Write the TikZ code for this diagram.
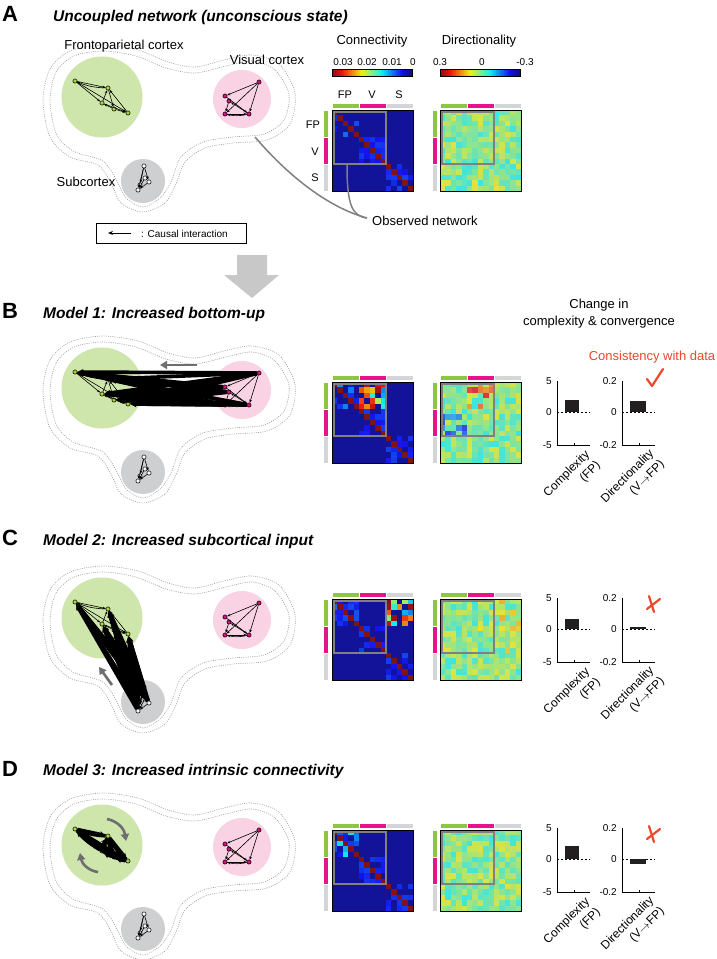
\documentclass[tikz,border=0pt]{standalone}
\usepackage{fontspec}
\setmainfont{Liberation Sans}
\usetikzlibrary{arrows.meta, positioning, calc}

\definecolor{fpgreen}{RGB}{206,229,172}
\definecolor{vispink}{RGB}{249,210,228}
\definecolor{subgray}{RGB}{206,207,209}
\definecolor{fpbar}{RGB}{141,198,63}
\definecolor{visbar}{RGB}{230,20,140}
\definecolor{subbar}{RGB}{212,213,215}
\definecolor{gnodefill}{RGB}{172,212,62}
\definecolor{pnodefill}{RGB}{205,25,125}
\definecolor{arrowgray}{RGB}{110,110,112}
\definecolor{obsgray}{RGB}{128,128,128}
\definecolor{datared}{RGB}{236,72,45}
\definecolor{bigarrow}{RGB}{200,200,200}
\definecolor{barblack}{RGB}{35,31,32}

\tikzset{
  paneltag/.style   = {font=\fontsize{22}{26}\selectfont\bfseries, inner sep=0pt, anchor=base west},
  paneltitle/.style = {font=\fontsize{15.5}{18}\selectfont\bfseries\itshape, inner sep=0pt, anchor=base west},
  regiontext/.style = {font=\fontsize{13}{16}\selectfont, inner sep=0pt},
  smalltext/.style  = {font=\fontsize{10}{12}\selectfont, inner sep=0pt},
  axistext/.style   = {font=\fontsize{12}{15}\selectfont, inner sep=0pt, rotate=45, anchor=north east, align=right},
  contour/.style    = {draw=gray!75, line width=0.6pt, dash pattern=on 1pt off 1.2pt},
  gnode/.style      = {circle, draw=black, line width=0.5pt, inner sep=0pt, minimum size=4.2pt, fill=gnodefill},
  pnode/.style      = {gnode, fill=pnodefill},
  snode/.style      = {gnode, fill=white},
  netarrow/.style   = {line width=0.6pt, -{Stealth[length=3.2pt,width=2.6pt]}},
  bundle/.style     = {line width=3.6pt, -{Stealth[length=6pt,width=6pt]}},
  flowarrow/.style  = {draw=arrowgray, line width=2.6pt, -{Triangle[length=7pt,width=8pt]}},
  obsline/.style    = {draw=obsgray, line width=1.5pt},
  verdict/.style    = {draw=datared, line width=2.2pt, line cap=round, line join=round}
}

% jet colour map, 0 = dark blue, 1 = dark red
\newcommand\jetcolor[2]{%
  \pgfmathsetmacro\jetr{max(0,min(1,1.5-abs(4*(#2)-3)))}%
  \pgfmathsetmacro\jetg{max(0,min(1,1.5-abs(4*(#2)-2)))}%
  \pgfmathsetmacro\jetb{max(0,min(1,1.5-abs(4*(#2)-1)))}%
  \definecolor{#1}{rgb}{\jetr,\jetg,\jetb}}

% connectivity matrix: x, y, seed, hot column block, FP boost
\newcommand\connmat[5]{%
  \pgfmathsetseed{#3}
  \foreach \i in {0,...,14}{
    \foreach \j in {0,...,14}{
      \pgfmathtruncatemacro\bi{\i/5}
      \pgfmathtruncatemacro\bj{\j/5}
      \pgfmathsetmacro\ra{rnd}
      \pgfmathsetmacro\rb{rnd}
      \pgfmathsetmacro\cv{(\i==\j) ? 1 : ((\bi==\bj) ? ((\ra>0.45) ? (0.12+0.06*\rb+(\bi==0)*#5*\rb) : 0.03) : (((\bi==0) && (\bj==#4) && (\ra>0.2)) ? (0.25+0.75*\rb) : 0.03))}
      \jetcolor{cellc}{\cv}
      \fill[cellc!85!gray] ({#1+\j*5.4},{#2+\i*5.4}) rectangle ++(5.5,5.5);
    }
  }
}

% directionality matrix: x, y, seed, mode
\newcommand\dirmat[4]{%
  \pgfmathsetseed{#3}
  \foreach \i in {0,...,14}{
    \foreach \j in {0,...,14}{
      \pgfmathtruncatemacro\bi{\i/5}
      \pgfmathtruncatemacro\bj{\j/5}
      \pgfmathsetmacro\ra{rnd}
      \pgfmathsetmacro\rb{rnd}
      \pgfmathsetmacro\cv{(\i==\j) ? 0.5 : (((#4==1) && (\bi==0) && (\bj==1) && (\ra>0.6)) ? (0.66+0.24*\rb) : (((#4==1) && (\bi==1) && (\bj==0) && (\ra>0.6)) ? (0.12+0.22*\rb) : (((#4==2) && (\bj==2) && (\bi<2)) ? (0.4+0.3*\rb) : (0.38+0.24*\rb))))}
      \jetcolor{cellc}{\cv}
      \fill[cellc!76!gray!88!white] ({#1+\j*5.4},{#2+\i*5.4}) rectangle ++(5.5,5.5);
    }
  }
}

% both matrices with region bars: top, conn seed, hot block, FP boost, dir seed, dir mode
\newcommand\matrixpair[6]{%
  \fill[fpbar]  (332.5,#1-6) rectangle (358.5,#1-2);
  \fill[visbar] (359.5,#1-6) rectangle (385.5,#1-2);
  \fill[subbar] (386.5,#1-6) rectangle (412.5,#1-2);
  \fill[fpbar]  (440.5,#1-6) rectangle (466.5,#1-2);
  \fill[visbar] (467.5,#1-6) rectangle (493.5,#1-2);
  \fill[subbar] (494.5,#1-6) rectangle (520.5,#1-2);
  \fill[fpbar]  (324,#1+0.5) rectangle (328,#1+26.5);
  \fill[visbar] (324,#1+27.5) rectangle (328,#1+53.5);
  \fill[subbar] (324,#1+54.5) rectangle (328,#1+80.5);
  \fill[fpbar]  (433,#1+0.5) rectangle (437,#1+26.5);
  \fill[visbar] (433,#1+27.5) rectangle (437,#1+53.5);
  \fill[subbar] (433,#1+54.5) rectangle (437,#1+80.5);
  \connmat{332}{#1}{#2}{#3}{#4}
  \dirmat{440}{#1}{#5}{#6}
  \draw[obsgray, line width=2.2pt] (333.5,#1+1.5) rectangle (386,#1+54);
  \draw[obsgray, line width=2.2pt] (441.5,#1+1.5) rectangle (494,#1+54);
  \draw[line width=0.8pt] (332,#1) rectangle (413,#1+81);
  \draw[line width=0.8pt] (440,#1) rectangle (521,#1+81);
}

% colour bar, red on the left
\newcommand\colorbar[2]{%
  \foreach \k in {0,...,39}{
    \pgfmathsetmacro\cv{1-(\k+0.5)/40}
    \jetcolor{cellc}{\cv}
    \fill[cellc!88!gray] ({#1+\k*2},#2) rectangle ++(2.1,7);
  }
  \draw[line width=0.5pt] (#1,#2) rectangle ++(80,7);
}

% brain regions, contours and network nodes
\newcommand\brainmap[1]{%
  \draw[contour] plot[smooth cycle] coordinates {(43,100) (50,69) (70,51) (103,45) (138,50) (168,62) (195,67) (224,60) (252,55) (279,64) (295,93) (290,124) (267,140) (233,143) (205,148) (185,162) (176,184) (165,203) (143,212) (121,203) (111,183) (98,165) (70,157) (50,137)};
  \draw[contour] plot[smooth cycle] coordinates {(50,100) (56,72) (74,56) (103,51) (136,56) (166,68) (195,73) (226,66) (252,61) (275,70) (289,94) (284,120) (264,134) (233,137) (203,142) (181,157) (171,182) (160,198) (143,207) (126,198) (117,181) (103,161) (73,151) (56,133)};
  \fill[fpgreen] (102,97) circle[radius=40.5pt];
  \fill[vispink] (242,99) circle[radius=29pt];
  \fill[subgray] (143,181) circle[radius=22pt];
  \node[gnode] (#1g1) at (75,81) {};
  \node[gnode] (#1g2) at (108,88) {};
  \node[gnode] (#1g3) at (102,103) {};
  \node[gnode] (#1g4) at (114,109) {};
  \node[gnode] (#1g5) at (128,113) {};
  \node[pnode] (#1p1) at (259,82) {};
  \node[pnode] (#1p2) at (225,96) {};
  \node[pnode] (#1p3) at (225,114) {};
  \node[pnode] (#1p4) at (249,114) {};
  \node[pnode] (#1p5) at (229,101) {};
  \node[snode] (#1s1) at (144,166) {};
  \node[snode] (#1s2) at (149,182) {};
  \node[snode] (#1s3) at (145,178) {};
  \node[snode] (#1s4) at (138,190) {};
  \node[snode] (#1s5) at (140,185) {};
}

% thin edges in visual cortex and subcortex
\newcommand\brainwires[1]{%
  \draw[netarrow] (#1p1) -- (#1p2);
  \draw[netarrow] (#1p1) -- (#1p3);
  \draw[netarrow] (#1p1) -- (#1p4);
  \draw[netarrow] (#1p2) -- (#1p4);
  \draw[netarrow] (#1p3) -- (#1p4);
  \draw[netarrow] (#1p4) to[bend left=12] (#1p3);
  \draw[netarrow] (#1p5) -- (#1p3);
  \draw[netarrow] (#1p4) -- (#1p5);
  \draw[netarrow] (#1s1) -- (#1s2);
  \draw[netarrow] (#1s1) -- (#1s4);
  \draw[netarrow] (#1s2) -- (#1s4);
  \draw[netarrow] (#1s1) -- (#1s5);
  \draw[netarrow] (#1s3) -- (#1s4);
}

% thin edges in frontoparietal cortex
\newcommand\fpwires[1]{%
  \draw[netarrow] (#1g1) -- (#1g2);
  \draw[netarrow] (#1g2) to[bend left=10] (#1g1);
  \draw[netarrow] (#1g1) -- (#1g3);
  \draw[netarrow] (#1g1) -- (#1g5);
  \draw[netarrow] (#1g3) -- (#1g5);
  \draw[netarrow] (#1g2) -- (#1g4);
  \draw[netarrow] (#1g3) -- (#1g2);
  \draw[netarrow] (#1g4) -- (#1g5);
  \draw[netarrow] (#1g5) -- (#1g2);
  \draw[netarrow] (#1g4) -- (#1g3);
}

% change in complexity and directionality: prefix, zero line, bar 1, bar 2
\newcommand\changebars[4]{%
  \draw[line width=0.8pt] (557,#2-31) -- (557,#2+33) -- (590,#2+33);
  \draw[line width=0.6pt] (574,#2+33) -- (574,#2+31);
  \draw[line width=0.8pt] (622,#2-31) -- (622,#2+33) -- (655,#2+33);
  \draw[line width=0.6pt] (639,#2+33) -- (639,#2+31);
  \draw[line width=0.8pt, dash pattern=on 2pt off 2pt] (557,#2) -- (590,#2);
  \draw[line width=0.8pt, dash pattern=on 2pt off 2pt] (622,#2) -- (655,#2);
  \fill[barblack] (565,#2) rectangle (579,#2-#3);
  \fill[barblack] (630,#2) rectangle (646,#2-#4);
  \node[smalltext, anchor=east] (#1ya) at (552,#2-31) {5};
  \node[smalltext, anchor=east] (#1yb) at (552,#2) {0};
  \node[smalltext, anchor=east] (#1yc) at (552,#2+33) {-5};
  \node[smalltext, anchor=east] (#1yd) at (617,#2-31) {0.2};
  \node[smalltext, anchor=east] (#1ye) at (617,#2) {0};
  \node[smalltext, anchor=east] (#1yf) at (617,#2+33) {-0.2};
  \node[axistext] (#1cx) at (584,#2+37) {Complexity\\(FP)};
  \node[axistext] (#1dx) at (648,#2+36) {Directionality\\(V$\rightarrow$FP)};
}

\newcommand\crossmark[1]{%
  \draw[verdict] (649,#1-33) -- (654,#1-17);
  \draw[verdict] (660,#1-30) -- (647,#1-20);
}

\begin{document}
\begin{tikzpicture}[x=1pt, y=-1pt]

\useasboundingbox (0,0) rectangle (717,959);
\fill[white] (0,0) rectangle (717,959);

% Panel A: uncoupled network
\node[paneltag] (tagA) at (2,21) {A};
\node[paneltitle] (titleA) at (53,21) {Uncoupled network (unconscious state)};

\brainmap{A}
\brainwires{A}
\fpwires{A}

\node[regiontext] (fplabel) at (124,46) {Frontoparietal cortex};
\node[regiontext] (vislabel) at (267,60) {Visual cortex};
\node[regiontext] (sublabel) at (86,182) {Subcortex};

\node[draw, line width=0.6pt, minimum width=150pt, minimum height=20pt] (legend) at (171,233) {};
\coordinate (legtail) at (131,233);
\coordinate (leghead) at (108,233);
\draw[line width=1pt, -{Stealth[length=5pt,width=4pt]}] (legtail) -- (leghead);
\node[smalltext, anchor=west] (legtext) at (141,233.5) {: Causal interaction};

\node[regiontext] (conntitle) at (372,41) {Connectivity};
\node[regiontext] (dirtitle) at (479,41) {Directionality};
\colorbar{332}{69}
\colorbar{440}{69}
\node[smalltext] (cb1) at (343,62) {0.03};
\node[smalltext] (cb2) at (367,62) {0.02};
\node[smalltext] (cb3) at (392,62) {0.01};
\node[smalltext] (cb4) at (413,62) {0};
\node[smalltext] (cb5) at (440,62) {0.3};
\node[smalltext] (cb6) at (482,62) {0};
\node[smalltext] (cb7) at (525,62) {-0.3};

\node[smalltext, font=\fontsize{11}{13}\selectfont] (topFP) at (345,95) {FP};
\node[smalltext, font=\fontsize{11}{13}\selectfont] (topV) at (372,95) {V};
\node[smalltext, font=\fontsize{11}{13}\selectfont] (topS) at (399,95) {S};
\node[smalltext, font=\fontsize{11}{13}\selectfont] (leftFP) at (313,125) {FP};
\node[smalltext, font=\fontsize{11}{13}\selectfont] (leftV) at (315,152) {V};
\node[smalltext, font=\fontsize{11}{13}\selectfont] (leftS) at (315,178) {S};

\matrixpair{110}{11}{9}{0.05}{21}{0}

% observed network pointers
\coordinate (obsvis) at (255,137);
\coordinate (obsmat) at (347,165);
\coordinate (obsmeet) at (367,218);
\node[regiontext, anchor=west] (obstext) at (372,221) {Observed network};
\draw[obsline] (obsvis) .. controls (290,178) and (330,208) .. (obsmeet);
\draw[obsline] (obsmat) .. controls (347,205) and (352,216) .. (obsmeet);

% transition arrow
\fill[bigarrow] (237,255) -- (267,255) -- (267,275) -- (279,275) -- (252,298) -- (224,275) -- (237,275) -- cycle;

% Panel B: bottom-up
\node[paneltag] (tagB) at (2,318) {B};
\node[paneltitle] (titleB) at (43,318) {Model 1: Increased bottom-up};
\node[regiontext, align=center, font=\fontsize{13}{17}\selectfont] (changetitle) at (599,314) {Change in\\complexity \& convergence};
\node[regiontext, text=datared] (consist) at (652,357) {Consistency with data};

\begin{scope}[shift={(0,291)}]
  \brainmap{B}
  \foreach \a in {1,...,5}{
    \foreach \b in {1,...,5}{
      \draw[bundle] (Bp\a) -- (Bg\b);
    }
  }
  \brainwires{B}
  \fpwires{B}
  \coordinate (Bflow1) at (197,74);
  \coordinate (Bflow2) at (160,74);
  \draw[flowarrow] (Bflow1) -- (Bflow2);
\end{scope}

\matrixpair{382}{12}{1}{0.1}{22}{1}
\changebars{B}{412}{12}{11}
\coordinate (chk1) at (647,379);
\coordinate (chk2) at (652,386);
\coordinate (chk3) at (663,369);
\draw[verdict] (chk1) -- (chk2) -- (chk3);

% Panel C: subcortical input
\node[paneltag] (tagC) at (2,545) {C};
\node[paneltitle] (titleC) at (43,545) {Model 2: Increased subcortical input};

\begin{scope}[shift={(0,521)}]
  \brainmap{C}
  \foreach \a in {1,...,5}{
    \foreach \b in {1,...,5}{
      \draw[bundle] (Cs\a) -- (Cg\b);
    }
  }
  \brainwires{C}
  \fpwires{C}
  \coordinate (Cflow1) at (112,164);
  \coordinate (Cflow2) at (99,146);
  \draw[flowarrow] (Cflow1) -- (Cflow2);
\end{scope}

\matrixpair{599}{13}{2}{0.05}{23}{2}
\changebars{C}{629}{10}{1.8}
\crossmark{629}

% Panel D: intrinsic connectivity
\node[paneltag] (tagD) at (2,776) {D};
\node[paneltitle] (titleD) at (43,775) {Model 3: Increased intrinsic connectivity};

\begin{scope}[shift={(0,748)}]
  \brainmap{D}
  \foreach \a/\b in {1/2,1/3,1/4,1/5,2/3,2/4,2/5,3/4,3/5,4/5}{
    \draw[bundle] (Dg\a) -- (Dg\b);
    \draw[bundle] (Dg\b) to[bend left=8] (Dg\a);
  }
  \brainwires{D}
  \coordinate (Dcirc1) at (107,71);
  \coordinate (Dcirc2) at (126,93);
  \coordinate (Dcirc3) at (98,124);
  \coordinate (Dcirc4) at (80,105);
  \draw[flowarrow] (Dcirc1) .. controls (117,73) and (124,80) .. (Dcirc2);
  \draw[flowarrow] (Dcirc3) .. controls (89,123) and (82,116) .. (Dcirc4);
\end{scope}

\matrixpair{830}{14}{9}{0.2}{24}{0}
\changebars{D}{859}{13}{-5}
\crossmark{859}

\end{tikzpicture}
\end{document}
